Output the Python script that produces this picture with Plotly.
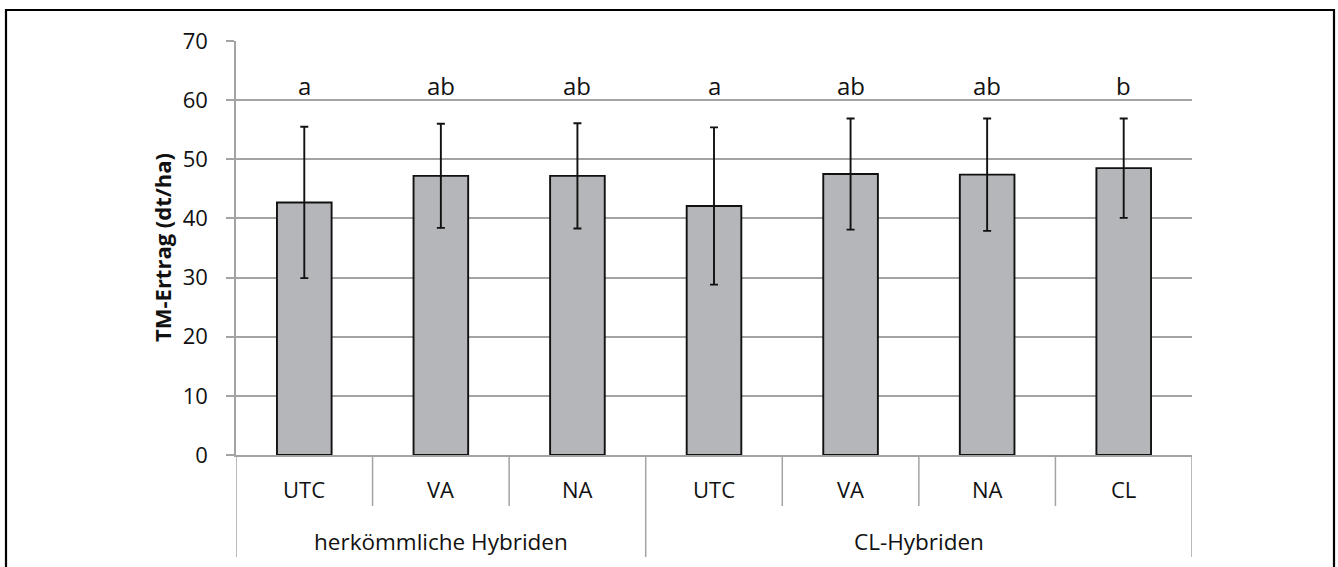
import plotly.graph_objects as go

# ---- data ----
groups = ["herkömmliche Hybriden", "CL-Hybriden"]
group_sizes = [3, 4]
treatments = ["UTC", "VA", "NA", "UTC", "VA", "NA", "CL"]
yield_mean = [42.7, 47.2, 47.2, 42.1, 47.5, 47.4, 48.5]
yield_err = [12.8, 8.8, 8.9, 13.3, 9.4, 9.5, 8.4]
letters = ["a", "ab", "ab", "a", "ab", "ab", "b"]
letter_level = 62.5
y_ticks = [0, 10, 20, 30, 40, 50, 60, 70]
y_title = "TM-Ertrag (dt/ha)"

FONT = "Open Sans"
GRID = "#a3a3a3"
INK = "#111111"
W, H = 1338, 567
L, R, T, B = 236, 146, 41, 112
plot_h = H - T - B

def py(pix):  # pixel row -> paper y
    return (H - B - pix) / plot_h

def px(pix):  # pixel column -> paper x
    return (pix - L) / (W - L - R)

xs = list(range(len(treatments)))

fig = go.Figure()
fig.add_trace(go.Bar(
    x=xs, y=yield_mean, width=0.4,
    marker=dict(color="#b4b6ba", line=dict(color=INK, width=1.9)),
    error_y=dict(type="data", array=yield_err, visible=True,
                 color=INK, thickness=1.9, width=4),
    showlegend=False,
))

annotations = []
# significance letters
for x, lab in zip(xs, letters):
    annotations.append(dict(x=x, y=letter_level, xref="x", yref="y", text=lab,
                            showarrow=False, yanchor="middle",
                            font=dict(family=FONT, size=24, color=INK)))
# category labels
for x, lab in zip(xs, treatments):
    annotations.append(dict(x=x, y=py(489), xref="x", yref="paper", text=lab,
                            showarrow=False, yanchor="middle",
                            font=dict(family=FONT, size=22, color=INK)))
# group labels
start = 0
for g, n in zip(groups, group_sizes):
    center = start + (n - 1) / 2
    annotations.append(dict(x=center, y=py(541), xref="x", yref="paper", text=g,
                            showarrow=False, yanchor="middle",
                            font=dict(family=FONT, size=22.5, color=INK)))
    start += n
# y-axis title
annotations.append(dict(x=px(162), y=py(248), xref="paper", yref="paper",
                        text="<b>" + y_title + "</b>", textangle=-90,
                        showarrow=False, xanchor="center", yanchor="middle",
                        font=dict(family=FONT, size=22, color=INK)))

shapes = []
# category boundaries
bounds = [i - 0.5 for i in range(len(treatments) + 1)]
group_bounds = [-0.5]
acc = -0.5
for n in group_sizes:
    acc += n
    group_bounds.append(acc)
for b in bounds:
    bottom = py(557) if b in group_bounds else py(506)
    shapes.append(dict(type="line", xref="x", yref="paper", x0=b, x1=b,
                       y0=0, y1=bottom, line=dict(color=GRID, width=1.5)))
# outer frame
shapes.append(dict(type="rect", xref="paper", yref="paper",
                   x0=px(6), x1=px(1334), y0=py(10), y1=py(575),
                   line=dict(color="#000", width=2.2)))

fig.update_layout(
    width=W, height=H,
    margin=dict(l=L, r=R, t=T, b=B),
    plot_bgcolor="white", paper_bgcolor="white",
    font=dict(family=FONT, size=22, color=INK),
    xaxis=dict(range=[-0.5, len(treatments) - 0.5], showticklabels=False,
               showgrid=False, zeroline=False, showline=True,
               linecolor=GRID, linewidth=1.5, ticks=""),
    yaxis=dict(range=[0, 70], tickvals=y_ticks, showgrid=True, gridcolor=GRID,
               gridwidth=1.5, zeroline=False, showline=True, linecolor=GRID,
               linewidth=1.5, ticks="outside", ticklen=8, tickcolor=GRID,
               tickwidth=1.5, ticklabelstandoff=14,
               tickfont=dict(family=FONT, size=22, color=INK)),
    annotations=annotations,
    shapes=shapes,
    bargap=0.6,
)

fig.write_html("out.html")
